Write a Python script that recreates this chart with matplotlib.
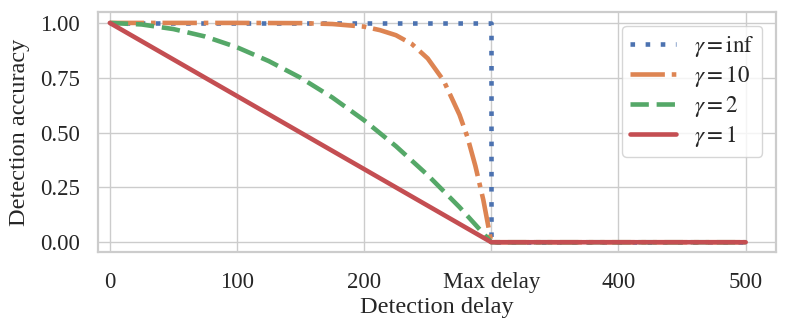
import numpy as np
import matplotlib.pyplot as plt
import seaborn as sns

sns.set_theme(style='whitegrid')
plt.rcParams['font.family'] = ['Liberation Serif', 'DejaVu Serif']
plt.rcParams['mathtext.fontset'] = 'stix'

# values
delay_inf = [0, 300, 300, 500]
acc_inf = [1.0, 1.0, 0.0, 0.0]

delay_10 = [0, 100, 150, 175, 200, 212.5, 225, 237.5, 250, 262.5, 275, 281.25, 287.5, 293.75, 300, 500]
acc_10 = [1.0, 1.0, 0.999, 0.995, 0.983, 0.967, 0.944, 0.904, 0.838, 0.737, 0.581, 0.479, 0.347, 0.192, 0.0, 0.0]

delay_2 = [0, 25, 50, 75, 100, 125, 150, 175, 200, 225, 250, 275, 300, 500]
acc_2 = [1.0, 0.993, 0.972, 0.938, 0.889, 0.826, 0.75, 0.66, 0.556, 0.438, 0.306, 0.16, 0.0, 0.0]

delay_1 = [0, 300, 500]
acc_1 = [1.0, 0.0, 0.0]

xticks = [0, 100, 200, 300, 400, 500]
xticklabels = ['0', '100', '200', 'Max delay', '400', '500']
yticks = [0.0, 0.25, 0.5, 0.75, 1.0]

fig, ax = plt.subplots(figsize=(7.88, 3.32), dpi=100)
pal = sns.color_palette('deep')
lw = 3.3
ax.plot(delay_inf, acc_inf, ':', dashes=(1, 2.3), color=pal[0], lw=lw, label=r'$\gamma = \mathrm{inf}$')
ax.plot(delay_10, acc_10, '-.', dashes=(7.5, 1.5, 1, 1.5), color=pal[1], lw=lw, label=r'$\gamma = 10$')
ax.plot(delay_2, acc_2, '--', dashes=(4.0, 1.7), color=pal[2], lw=lw, label=r'$\gamma = 2$')
ax.plot(delay_1, acc_1, '-', color=pal[3], lw=lw, label=r'$\gamma = 1$')

ax.set_xticks(xticks)
ax.set_xticklabels(xticklabels)
ax.set_yticks(yticks)
ax.set_yticklabels(['%.2f' % v for v in yticks])
ax.set_xlim(-9.5, 524)
ax.set_ylim(-0.046, 1.05)
ax.tick_params(axis='x', labelsize=16.5, pad=8)
ax.tick_params(axis='y', labelsize=16.5, pad=7)
ax.set_xlabel('Detection delay', fontsize=17.5, labelpad=3)
ax.set_ylabel('Detection accuracy', fontsize=17.5, labelpad=7)
for s in ax.spines.values():
    s.set_linewidth(1.6)
ax.legend(loc='upper right', fontsize=16.5, handlelength=2.0, handletextpad=0.8,
          labelspacing=0.22, borderaxespad=0.6, borderpad=0.35)

plt.subplots_adjust(left=0.124, right=0.985, top=0.964, bottom=0.24)
plt.savefig('out.png', dpi=100)
